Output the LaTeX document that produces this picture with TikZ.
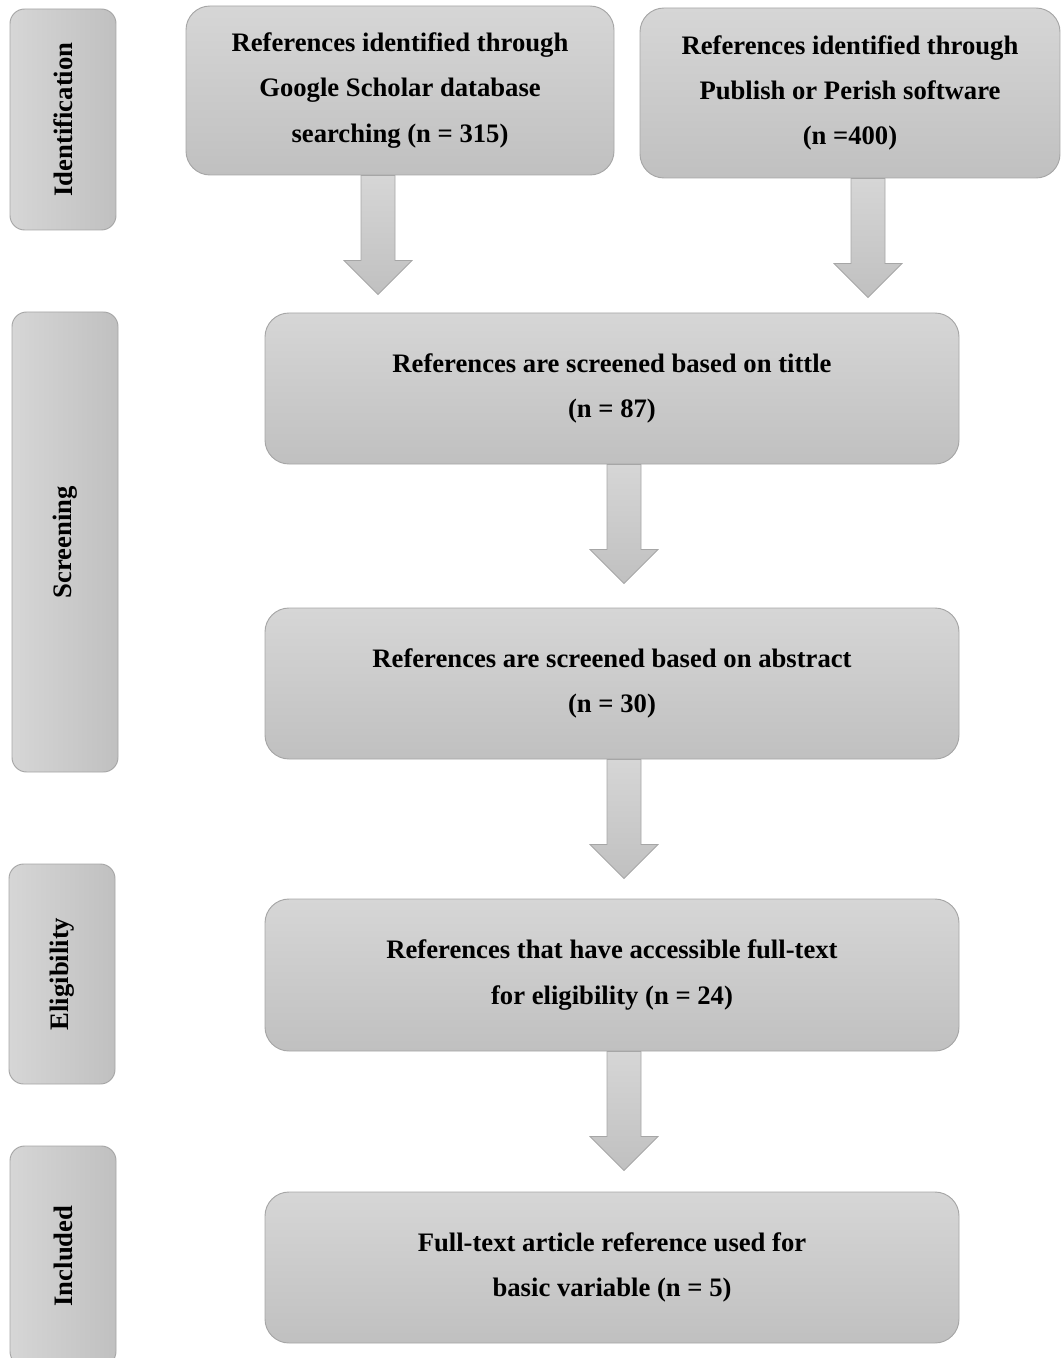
\documentclass[tikz,border=0pt]{standalone}
\usepackage{fontspec}
\setmainfont{Liberation Serif}
\usetikzlibrary{positioning,calc}
\definecolor{boxtop}{RGB}{214,214,214}
\definecolor{boxbottom}{RGB}{192,192,192}
\definecolor{boxline}{RGB}{166,166,166}

\tikzset{
  stagebox/.style={draw=boxline,line width=0.7pt,rounded corners=18pt,
    top color=boxtop,bottom color=boxbottom,align=center,
    font=\bfseries\fontsize{20}{34}\selectfont},
  phasebox/.style={draw=boxline,line width=0.7pt,rounded corners=11pt,
    rotate=90,left color=boxtop,right color=boxbottom,
    minimum height=79.5pt,font=\bfseries\fontsize{20}{22}\selectfont},
  arrowbox/.style={draw=boxline,line width=0.6pt,
    top color=boxtop,bottom color=boxbottom}
}
% block arrow hanging below a node: #1 node anchor, #2 x offset
\newcommand{\blockarrow}[2]{%
  \draw[arrowbox] ($(#1)+(#2-17,0)$) -- ++(0,85) -- ++(-17,0) -- ++(34,34)
    -- ++(34,-34) -- ++(-17,0) -- ++(0,-85) -- cycle;}

\begin{document}
\begin{tikzpicture}[x=0.75pt,y=-0.75pt]
    \useasboundingbox (0,0) rectangle (1060,1358);

    % Phases
    \node[phasebox,minimum width=165.75pt] (ident) at (63,119.5) {Identification};
    \node[phasebox,minimum width=345pt] (screen) at (65,542) {Screening};
    \node[phasebox,minimum width=165pt] (elig) at (62,974) {Eligibility};
    \node[phasebox,minimum width=165pt] (incl) at (63,1256) {Included};

    % Identification
    \node[stagebox,minimum width=321pt,minimum height=126.75pt] (scholar) at (400,90.5) {
        References identified through\\
        Google Scholar database\\
        searching (n = 315)
    };
    \node[stagebox,minimum width=315pt,minimum height=127.5pt] (perish) at (850,93) {
        References identified through\\
        Publish or Perish software\\
        (n =400)
    };

    % Screening
    \node[stagebox,minimum width=520.5pt,minimum height=113.25pt] (title) at (612,388.5) {
        References are screened based on tittle\\
        (n = 87)
    };
    \node[stagebox,minimum width=520.5pt,minimum height=113.25pt] (abstract) at (612,683.5) {
        References are screened based on abstract\\
        (n = 30)
    };

    % Eligibility
    \node[stagebox,minimum width=520.5pt,minimum height=114pt] (fulltext) at (612,975) {
        References that have accessible full-text\\
        for eligibility (n = 24)
    };

    % Included
    \node[stagebox,minimum width=520.5pt,minimum height=113.25pt] (used) at (612,1267.5) {
        Full-text article reference used for\\
        basic variable (n = 5)
    };

    % Arrows
    \blockarrow{scholar.south}{-22}
    \blockarrow{perish.south}{18}
    \blockarrow{title.south}{12}
    \blockarrow{abstract.south}{12}
    \blockarrow{fulltext.south}{12}
\end{tikzpicture}
\end{document}
